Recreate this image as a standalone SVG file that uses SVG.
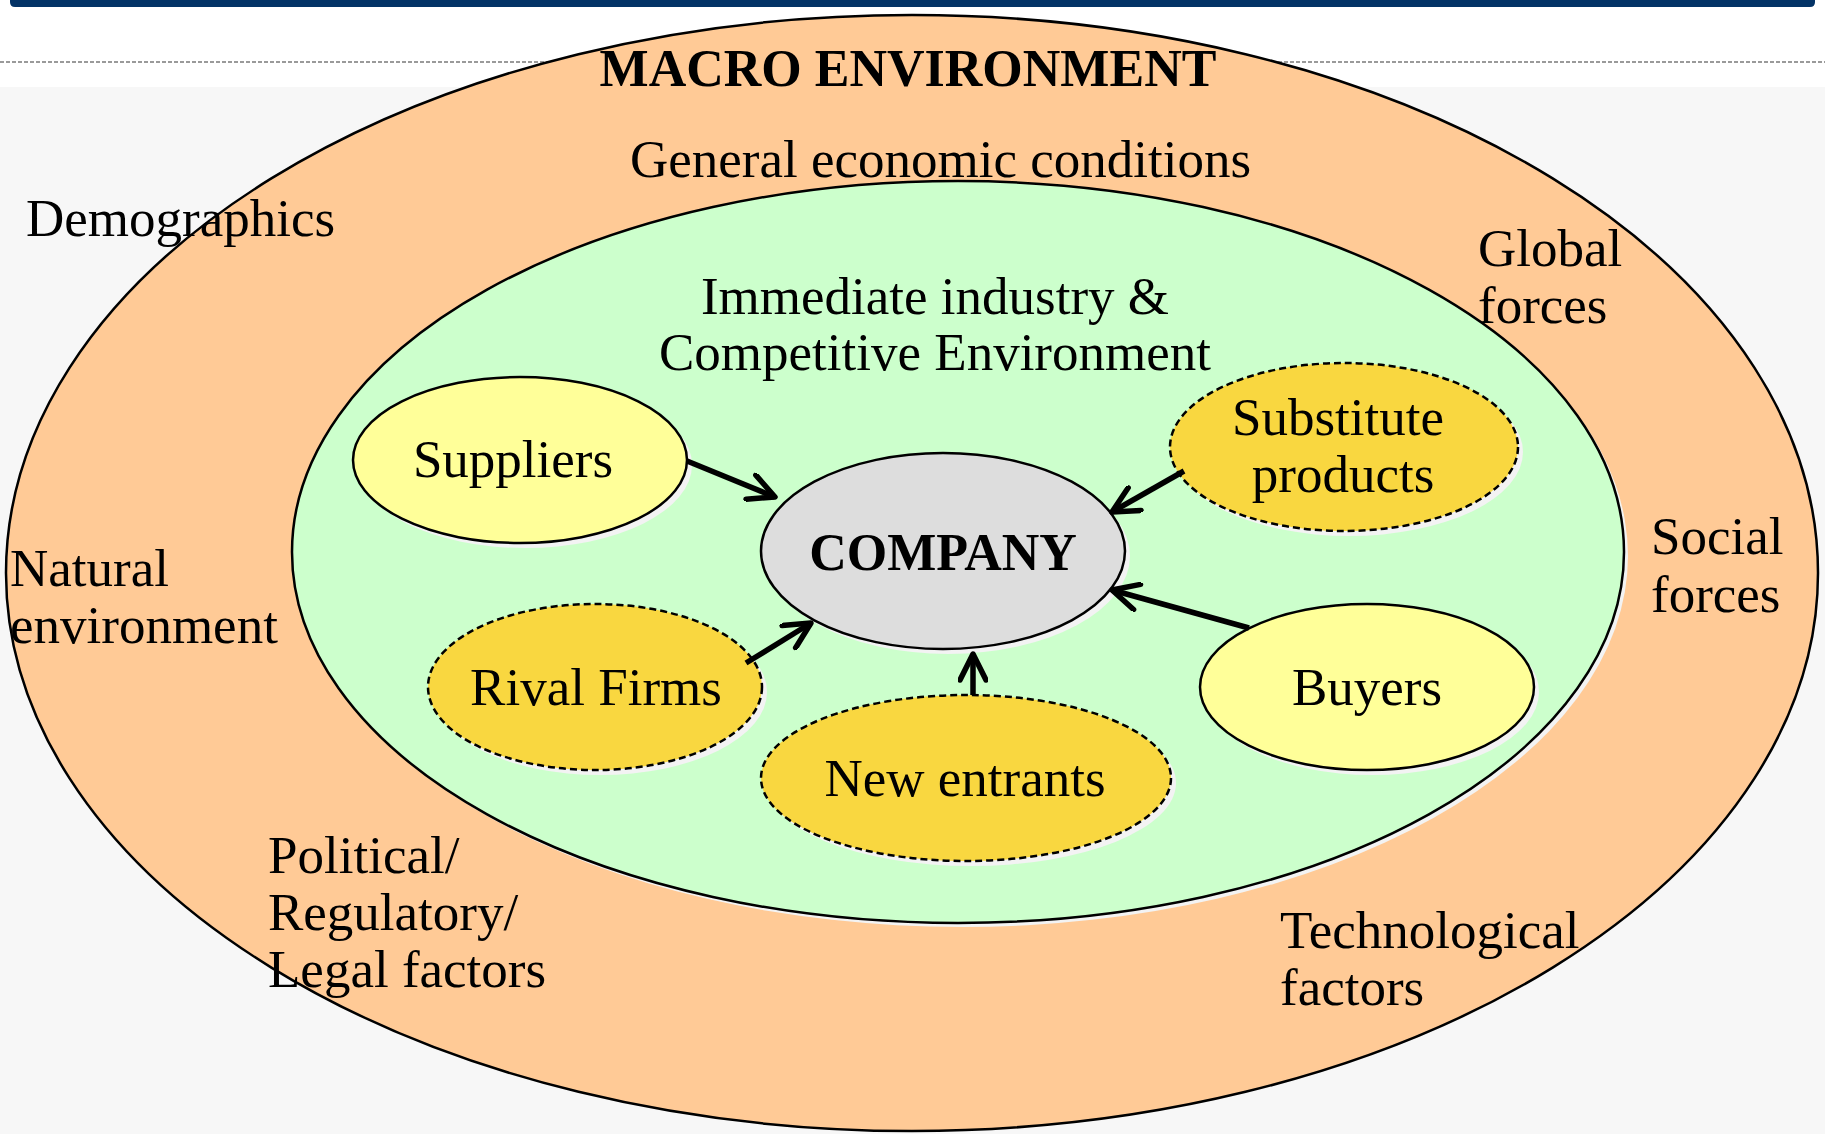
<svg xmlns="http://www.w3.org/2000/svg" width="1825" height="1134" viewBox="0 0 1825 1134">
<defs>
<style>
.t{font-family:"Liberation Serif","Times New Roman",serif;font-size:53px;fill:#000}
.b{font-weight:bold;font-size:52px}
.c{text-anchor:middle}
.shadow{fill:#f3f3f3;stroke:none}
.solid{stroke:#000;stroke-width:2.5}
.dash{stroke:#000;stroke-width:2.5;stroke-dasharray:7 4}
.yel{fill:#ffff99}
.gold{fill:#f9d740}
.arrow{stroke:#000;stroke-width:5.5;fill:none;marker-end:url(#ah)}
</style>
<marker id="ah" markerUnits="userSpaceOnUse" viewBox="-4 0 34 30" markerWidth="34" markerHeight="30" refX="26" refY="15" orient="auto">
<path d="M0,2 L26,15 L0,28" fill="none" stroke="#000" stroke-width="5.5" stroke-linecap="round" stroke-linejoin="round"/>
</marker>
</defs>
<rect x="0" y="0" width="1825" height="1134" fill="#f7f7f7"/>
<rect x="0" y="0" width="1825" height="87" fill="#ffffff"/>
<path d="M10,0 H1815 V2 Q1815,7 1810,7 H15 Q10,7 10,2 Z" fill="#033366"/>
<line x1="0" y1="62" x2="1825" y2="62" stroke="#9a9a9a" stroke-width="2" stroke-dasharray="4 2"/>

<g id="macro">
<ellipse cx="912" cy="573" rx="906" ry="558" fill="#ffca96" stroke="#000" stroke-width="2.5"/>
</g>
<g id="industry">
<ellipse class="shadow" cx="962" cy="556" rx="666" ry="371"/>
<ellipse cx="958" cy="552" rx="666" ry="371" fill="#ccffcc" class="solid"/>
</g>

<g id="labels">
<text class="t b c" x="908" y="86">MACRO ENVIRONMENT</text>
<text class="t" x="630" y="177">General economic conditions</text>
<text class="t" x="26" y="236">Demographics</text>
<text class="t" x="1478" y="266">Global</text>
<text class="t" x="1478" y="323">forces</text>
<text class="t" x="10" y="586">Natural</text>
<text class="t" x="10" y="643">environment</text>
<text class="t" x="1651" y="554">Social</text>
<text class="t" x="1651" y="612">forces</text>
<text class="t" x="268" y="873">Political/</text>
<text class="t" x="268" y="930">Regulatory/</text>
<text class="t" x="268" y="987">Legal factors</text>
<text class="t" x="1280" y="948">Technological</text>
<text class="t" x="1280" y="1005">factors</text>
<text class="t c" x="935" y="314">Immediate industry &amp;</text>
<text class="t c" x="935" y="370">Competitive Environment</text>
</g>

<g id="suppliers">
<ellipse class="shadow" cx="525" cy="465" rx="167" ry="83"/>
<ellipse class="yel solid" cx="520" cy="460" rx="167" ry="83"/>
<text class="t c" x="513" y="477">Suppliers</text>
</g>
<g id="rival">
<ellipse class="shadow" cx="600" cy="692" rx="167" ry="83"/>
<ellipse class="gold dash" cx="595" cy="687" rx="167" ry="83"/>
<text class="t c" x="596" y="705">Rival Firms</text>
</g>
<g id="substitute">
<ellipse class="shadow" cx="1349" cy="452" rx="174" ry="84"/>
<ellipse class="gold dash" cx="1344" cy="447" rx="174" ry="84"/>
<text class="t c" x="1338" y="435">Substitute</text>
<text class="t c" x="1343" y="492">products</text>
</g>
<g id="buyers">
<ellipse class="shadow" cx="1372" cy="692" rx="167" ry="83"/>
<ellipse class="yel solid" cx="1367" cy="687" rx="167" ry="83"/>
<text class="t c" x="1367" y="705">Buyers</text>
</g>
<g id="newentrants">
<ellipse class="shadow" cx="971" cy="783" rx="205" ry="83"/>
<ellipse class="gold dash" cx="966" cy="778" rx="205" ry="83"/>
<text class="t c" x="965" y="796">New entrants</text>
</g>
<g id="company">
<ellipse class="shadow" cx="948" cy="556" rx="182" ry="98"/>
<ellipse cx="943" cy="551" rx="182" ry="98" fill="#dddddd" class="solid"/>
<text class="t b c" x="943" y="570">COMPANY</text>
</g>

<g id="connectors">
<line class="arrow" x1="687" y1="461" x2="775" y2="497"/>
<line class="arrow" x1="746" y1="663" x2="811" y2="623"/>
<line class="arrow" x1="973" y1="695" x2="973" y2="654"/>
<line class="arrow" x1="1184" y1="471" x2="1112" y2="512"/>
<line class="arrow" x1="1249" y1="628" x2="1112" y2="590"/>
</g>
</svg>
